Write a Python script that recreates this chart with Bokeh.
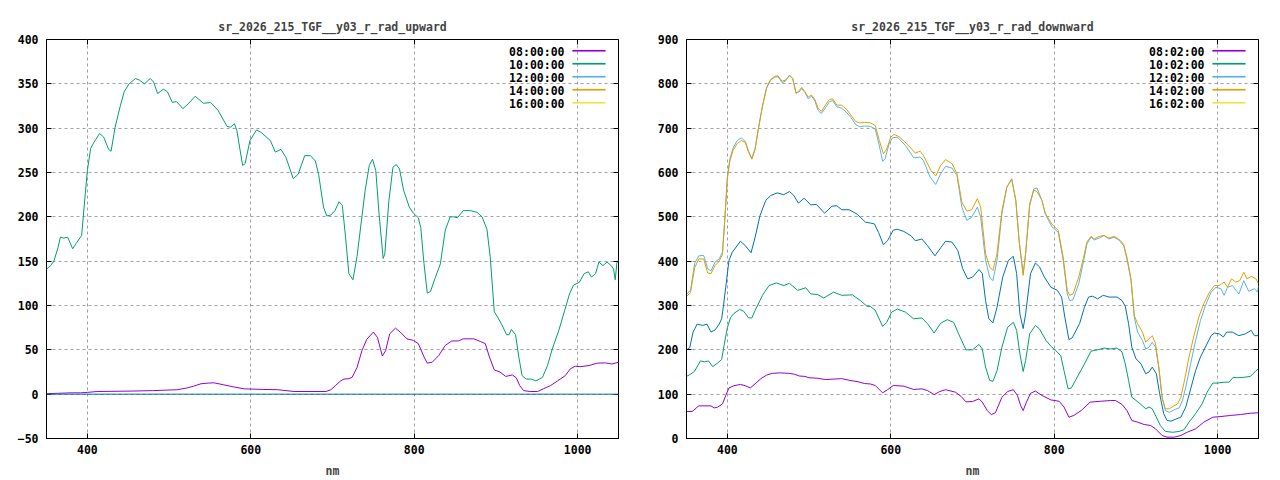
from bokeh.embed import file_html
from bokeh.layouts import row
from bokeh.models import (BoxAnnotation, Label, LinearAxis, Range1d,
                          SingleIntervalTicker, Span)
from bokeh.plotting import figure
from bokeh.resources import INLINE

# upward radiance, (nm, value) pairs
UP_08 = [(350, 0.5), (365, 1), (380, 1.5), (392, 1.5), (400, 2), (412, 3), (455, 3.5), (480, 4),
         (510, 5), (522, 7), (530, 9), (539, 11.7), (548, 12.5), (555, 12.8), (567, 10.5),
         (580, 8), (592, 6), (616, 5.3), (633, 5), (653, 3), (692, 3), (698, 5), (704, 10),
         (710, 15), (714, 17), (720, 17.5), (724, 19), (730, 30), (736, 49), (742, 62),
         (750, 70), (755, 64), (761, 43), (765, 49), (770, 68), (777, 74.4), (783, 70),
         (791, 62.4), (799, 60.6), (805, 57), (812, 42), (816, 35), (822, 36), (830, 43.5),
         (838, 55), (846, 60), (854, 60), (860, 62.4), (873, 62.4), (881, 59.4), (887, 57),
         (892, 42), (898, 27.4), (905, 25), (912, 20), (920, 21.7), (925, 18.4), (929, 9.8),
         (934, 4), (942, 3), (951, 3), (958, 6), (967, 9.8), (975, 14.7), (985, 21), (991, 28.5),
         (997, 31.5), (1003, 31), (1014, 32.3), (1024, 35), (1034, 35.3), (1042, 34), (1050, 36)]

UP_10 = [(350, 141), (355, 145), (359, 150), (364, 165), (367, 177), (371, 176), (376, 177),
         (382, 164), (387, 171), (393, 179), (396, 211), (400, 252), (404, 277), (408, 284),
         (415, 294), (420, 290), (426, 276), (429, 274), (434, 301), (440, 324), (445, 341),
         (451, 350), (459, 356), (464, 354), (470, 350), (477, 356), (481, 352), (486, 339),
         (493, 344), (498, 341), (504, 329), (509, 330), (517, 322), (524, 328), (532, 336),
         (542, 328), (551, 329), (560, 320), (571, 302), (575, 301), (580, 305), (583, 297),
         (590, 258), (593, 260), (599, 286), (607, 298), (613, 295), (624, 286), (630, 273),
         (637, 276), (643, 267), (652, 243), (658, 248), (666, 269), (673, 269), (679, 263),
         (683, 248), (689, 211), (693, 201), (698, 202), (703, 207), (708, 217), (712, 213),
         (716, 177), (720, 136), (725, 129), (730, 155), (736, 200), (740, 230), (745, 258),
         (749, 265), (753, 252), (757, 203), (762, 153), (764, 158), (769, 218), (774, 256),
         (778, 259), (782, 254), (787, 230), (794, 211), (799, 204), (805, 199), (808, 188),
         (812, 147), (816, 114), (820, 116), (826, 132), (832, 147), (838, 185), (844, 200),
         (848, 200), (853, 199), (860, 207), (869, 207), (877, 205), (883, 200), (889, 186),
         (893, 155), (898, 93), (902, 87), (908, 77), (913, 67), (916, 67), (919, 73), (924, 67),
         (928, 42), (932, 21), (937, 17), (943, 17), (949, 15), (953, 17), (957, 19), (963, 32),
         (969, 51), (977, 72), (984, 94), (990, 113), (995, 123), (1002, 126), (1008, 136),
         (1013, 138), (1017, 132), (1022, 136), (1026, 149), (1031, 145), (1036, 149),
         (1041, 145), (1044, 141), (1046, 129), (1048, 148), (1050, 151)]

# downward radiance
DN_08 = [(350, 61), (357, 61), (365, 73.6), (380, 73.6), (384, 69), (388, 70.7), (394, 78),
         (398, 97), (402, 114), (408, 119), (416, 122), (422, 119), (428, 114), (435, 125),
         (441, 135), (448, 143), (455, 147), (465, 148), (475, 147), (482, 145), (488, 141),
         (495, 140), (500, 137), (510, 136), (520, 133), (530, 134), (540, 135), (550, 131),
         (560, 128), (568, 124), (575, 123), (581, 119.6), (590, 103), (596, 110), (603, 119.6),
         (616, 118), (628, 110.6), (638, 112), (645, 108), (653, 99), (660, 106), (667, 110),
         (679, 104.6), (686, 95), (692, 82.7), (700, 83.4), (708, 89.5), (712, 82), (718, 63),
         (723, 54), (728, 58), (736, 93), (743, 106), (750, 110), (755, 97), (759, 74), (762, 63),
         (766, 82), (771, 102), (777, 107), (785, 97), (796, 87), (806, 84), (812, 71), (818, 48),
         (824, 52), (833, 63), (844, 82), (857, 84), (869, 85.7), (875, 85.7), (883, 76.7),
         (889, 63), (895, 40.6), (902, 36.8), (910, 31.6), (918, 29.3), (924, 21.8), (932, 6.8),
         (938, 3), (947, 3), (955, 6.8), (963, 14.3), (973, 21.8), (983, 36.8), (994, 48),
         (1004, 49.6), (1016, 52), (1028, 54), (1040, 57), (1050, 58)]

DN_10 = [(350, 140), (355, 145), (360, 152), (367, 175), (372, 173), (377, 175), (382, 162),
         (388, 170), (393, 178), (396, 210), (400, 250), (404, 273), (408, 282), (415, 291),
         (420, 287), (426, 272), (430, 272), (434, 289), (443, 323), (451, 345), (460, 351),
         (469, 345), (476, 350), (486, 334), (496, 340), (502, 326), (510, 325), (518, 317),
         (530, 330), (540, 323), (553, 324), (563, 311), (571, 298), (575, 298), (581, 289),
         (590, 253), (595, 262), (601, 285), (608, 292), (618, 285), (628, 270), (638, 272),
         (645, 259), (653, 238), (661, 260), (669, 268), (677, 262), (683, 236), (692, 200),
         (700, 200), (708, 212), (712, 202), (716, 161), (721, 131), (725, 129), (730, 153),
         (736, 206), (743, 251), (750, 262), (754, 244), (758, 191), (762, 151), (765, 176),
         (770, 236), (777, 255), (782, 247), (790, 221), (796, 208), (802, 198), (808, 187),
         (812, 153), (817, 112), (821, 114), (828, 138), (837, 168), (845, 197), (853, 200),
         (861, 204), (869, 202), (877, 204), (883, 195), (887, 168), (891, 131), (895, 93),
         (900, 86), (906, 77), (912, 67), (916, 71), (920, 67), (925, 48), (930, 29), (936, 16),
         (945, 14), (953, 16), (959, 20), (965, 37), (973, 56), (981, 78), (987, 104), (994, 125),
         (1000, 125), (1008, 127), (1014, 127), (1019, 138), (1024, 137), (1032, 138),
         (1040, 140), (1047, 153), (1050, 157)]

DN_12 = [(350, 325), (355, 335), (360, 395), (365, 412), (371, 413), (376, 383), (380, 378),
         (385, 398), (390, 405), (394, 420), (397, 500), (400, 590), (403, 630), (407, 655),
         (412, 672), (417, 678), (422, 670), (426, 648), (430, 632), (434, 655), (438, 700),
         (443, 750), (448, 790), (453, 808), (458, 815), (462, 816), (467, 803), (471, 806),
         (476, 820), (480, 812), (484, 780), (488, 782), (491, 790), (495, 780), (499, 766),
         (503, 772), (507, 762), (511, 740), (515, 733), (520, 746), (525, 760), (529, 762),
         (534, 748), (540, 745), (546, 735), (551, 725), (557, 708), (562, 703), (568, 705),
         (575, 704), (581, 698), (586, 660), (590, 625), (593, 631), (598, 665), (602, 678),
         (608, 680), (618, 661), (628, 633), (636, 635), (640, 627), (648, 590), (655, 573),
         (661, 597), (667, 614), (675, 610), (681, 593), (687, 522), (693, 492), (699, 499),
         (706, 522), (710, 499), (716, 402), (721, 364), (725, 356), (730, 402), (736, 507),
         (742, 567), (748, 586), (753, 537), (757, 447), (762, 372), (765, 417), (770, 529),
         (775, 563), (779, 565), (785, 537), (789, 507), (797, 478), (805, 465), (811, 402),
         (816, 326), (819, 311), (823, 313), (830, 349), (836, 401), (840, 439), (845, 454),
         (849, 448), (855, 452), (861, 458), (867, 450), (873, 454), (879, 448), (885, 435),
         (889, 405), (894, 356), (898, 274), (902, 240), (908, 221), (912, 202), (916, 206),
         (920, 217), (924, 206), (928, 161), (932, 93), (936, 63), (941, 59), (947, 65), (953, 69),
         (957, 86), (961, 116), (967, 169), (973, 221), (979, 266), (985, 300), (992, 330),
         (998, 341), (1004, 338), (1008, 323), (1012, 341), (1018, 345), (1026, 326),
         (1032, 356), (1038, 332), (1045, 338), (1049, 330), (1050, 345)]

DN_14 = [(350, 320), (355, 330), (360, 385), (365, 405), (371, 405), (376, 373), (380, 372),
         (385, 390), (390, 400), (394, 415), (397, 495), (400, 585), (403, 625), (407, 650),
         (412, 665), (417, 672), (422, 668), (426, 645), (430, 630), (434, 652), (438, 698),
         (443, 750), (448, 792), (453, 810), (458, 817), (462, 818), (467, 806), (471, 808),
         (476, 818), (480, 812), (484, 778), (488, 785), (491, 792), (495, 782), (499, 770),
         (503, 775), (507, 765), (511, 745), (515, 738), (520, 752), (525, 765), (529, 766),
         (534, 752), (540, 752), (546, 742), (551, 730), (557, 715), (562, 712), (568, 713),
         (575, 712), (581, 706), (586, 672), (591, 642), (595, 653), (600, 680), (604, 686),
         (610, 681), (619, 666), (630, 644), (636, 648), (640, 638), (649, 605), (655, 592),
         (661, 616), (667, 629), (675, 620), (681, 597), (687, 533), (693, 513), (699, 516),
         (706, 541), (710, 522), (716, 417), (721, 387), (725, 379), (730, 417), (736, 514),
         (742, 567), (748, 584), (753, 537), (757, 447), (762, 368), (765, 417), (770, 526),
         (775, 560), (779, 557), (785, 537), (789, 508), (797, 484), (805, 469), (811, 409),
         (816, 334), (819, 323), (823, 326), (830, 364), (836, 409), (840, 443), (845, 456),
         (849, 450), (855, 456), (861, 458), (867, 452), (873, 456), (879, 450), (885, 438),
         (889, 409), (894, 360), (898, 277), (902, 259), (908, 240), (912, 217), (916, 225),
         (920, 232), (924, 214), (928, 161), (932, 93), (936, 67), (941, 67), (945, 72), (951, 78),
         (955, 93), (959, 127), (965, 184), (971, 232), (977, 274), (983, 304), (990, 330),
         (996, 345), (1002, 345), (1008, 353), (1012, 341), (1017, 360), (1022, 353),
         (1027, 356), (1032, 375), (1036, 360), (1041, 366), (1047, 360), (1050, 349)]

# sixth, untitled series of the downward plot
DN_X = [(350, 200), (354, 205), (358, 240), (363, 258), (370, 255), (375, 258), (380, 240),
        (385, 245), (390, 258), (393, 270), (395, 296), (398, 341), (402, 402), (406, 420),
        (416, 445), (422, 435), (429, 419), (434, 454), (440, 503), (447, 537), (453, 548),
        (461, 554), (469, 550), (476, 557), (481, 549), (487, 531), (494, 542), (502, 527),
        (509, 528), (519, 508), (528, 524), (534, 525), (540, 516), (549, 516), (559, 506),
        (569, 488), (575, 486), (580, 484), (585, 465), (591, 437), (596, 446), (603, 470),
        (608, 472), (616, 467), (625, 457), (630, 446), (638, 450), (645, 435), (654, 412),
        (661, 430), (667, 445), (675, 443), (682, 424), (688, 383), (694, 360), (700, 364),
        (708, 381), (712, 372), (716, 311), (720, 270), (725, 261), (730, 296), (737, 364),
        (744, 402), (750, 411), (754, 372), (758, 281), (762, 248), (765, 281), (771, 372),
        (777, 396), (782, 387), (788, 364), (796, 341), (804, 334), (809, 319), (813, 274),
        (818, 223), (822, 227), (831, 259), (837, 296), (842, 319), (847, 321), (853, 315),
        (860, 323), (867, 319), (877, 319), (883, 311), (887, 298), (891, 259), (895, 206),
        (900, 180), (906, 169), (912, 146), (916, 150), (920, 161), (925, 146), (929, 101),
        (934, 56), (938, 41), (943, 39), (949, 44), (955, 48), (961, 71), (967, 112), (973, 153),
        (979, 184), (985, 206), (992, 232), (996, 238), (1002, 236), (1007, 229), (1011, 240),
        (1018, 240), (1026, 232), (1034, 236), (1041, 244), (1045, 232), (1050, 232)]

UP_LABELS = ["08:00:00", "10:00:00", "12:00:00", "14:00:00", "16:00:00"]
DN_LABELS = ["08:02:00", "10:02:00", "12:02:00", "14:02:00", "16:02:00"]

COLORS = ["#9400d3", "#009e73", "#56b4e9", "#e69f00", "#f0e442", "#0072b2"]
FONT = "DejaVu Sans Mono"
FSIZE = "11.5px"


def panel(title, y0, y1, ystep, series, labels, zero_line=False):
    p = figure(width=640, height=480, x_range=Range1d(350, 1050), y_range=Range1d(y0, y1),
               output_backend="svg", toolbar_location=None,
               min_border_left=46, min_border_right=22,
               min_border_top=39, min_border_bottom=42,
               background_fill_color="white", border_fill_color="white")
    p.outline_line_color = "black"

    p.title.text = title
    p.title.align = "center"
    p.title.text_font = FONT
    p.title.text_font_size = FSIZE
    p.title.text_font_style = "bold"
    p.title.standoff = 12

    xt = SingleIntervalTicker(interval=200, num_minor_ticks=0)
    yt = SingleIntervalTicker(interval=ystep, num_minor_ticks=0)
    p.xaxis.ticker = xt
    p.yaxis.ticker = yt
    p.xaxis.axis_label = "nm"
    p.xaxis.axis_label_standoff = 7
    p.xaxis.major_label_standoff = 6
    p.yaxis.major_label_standoff = 8
    for ax in p.xaxis + p.yaxis:
        ax.axis_line_color = "black"
        ax.major_tick_in = 5
        ax.major_tick_out = 0
        ax.minor_tick_line_color = None
        ax.major_label_text_font = FONT
        ax.major_label_text_font_size = FSIZE
        ax.major_label_text_font_style = "bold"
        ax.major_label_text_color = "black"
        ax.axis_label_text_font = FONT
        ax.axis_label_text_font_size = FSIZE
        ax.axis_label_text_font_style = "bold"

    # mirrored ticks on top and right, like gnuplot (no labels)
    for side, tk in (("right", yt), ("above", xt)):
        ax = LinearAxis(ticker=tk, axis_line_color=None, major_tick_in=5, major_tick_out=0,
                        minor_tick_line_color=None, major_label_text_color=None,
                        major_label_standoff=0)
        p.add_layout(ax, side)

    p.grid.grid_line_color = "#a0a0a0"
    p.grid.grid_line_dash = "3 3"
    p.grid.grid_line_width = 1

    for color, data in series:
        xs = [d[0] for d in data]
        ys = [d[1] for d in data]
        p.line(xs, ys, line_color=color, line_width=1)

    if zero_line:
        p.add_layout(Span(location=0, dimension="width", line_color=COLORS[5], line_width=1))

    # key, top right: text then line sample
    for i, lab in enumerate(labels):
        y = 387 - round(i * 13.1)
        p.add_layout(Label(x=518, y=y, x_units="screen", y_units="screen", text=lab,
                           text_align="right", text_baseline="middle", text_font=FONT,
                           text_font_size=FSIZE, text_font_style="bold", text_color="black"))
        p.add_layout(BoxAnnotation(left=526, right=559, bottom=y, top=y + 1.5,
                                   left_units="screen", right_units="screen",
                                   bottom_units="screen", top_units="screen",
                                   fill_color=COLORS[i], fill_alpha=1.0,
                                   line_color=COLORS[i], line_width=0.5))
    return p


p1 = panel("sr_2026_215_TGF__y03_r_rad_upward", -50, 400, 50,
           [(COLORS[0], UP_08), (COLORS[1], UP_10)], UP_LABELS, zero_line=True)
p2 = panel("sr_2026_215_TGF__y03_r_rad_downward", 0, 900, 100,
           [(COLORS[0], DN_08), (COLORS[1], DN_10), (COLORS[2], DN_12), (COLORS[3], DN_14),
            (COLORS[5], DN_X)], DN_LABELS)

p = row(p1, p2)
open("out.html", "w").write(file_html(p, INLINE))
